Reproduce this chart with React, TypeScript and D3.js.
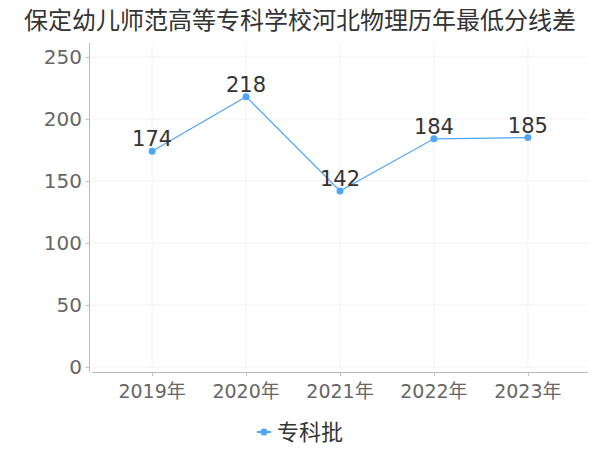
import { useEffect, useRef } from "react"
import * as d3 from "d3"

const title = "保定幼儿师范高等专科学校河北物理历年最低分线差"
const years = ["2019年", "2020年", "2021年", "2022年", "2023年"]
const values = [174, 218, 142, 184, 185]
const yTicks = [0, 50, 100, 150, 200, 250]
const seriesName = "专科批"

const FONT = "'DejaVu Sans', 'Noto Sans CJK SC', sans-serif"
const lineColor = "#4ea6f5"

export default function App() {
  const svgRef = useRef<SVGSVGElement>(null)

  useEffect(() => {
    if (!svgRef.current) return
    const svg = d3.select(svgRef.current)
    svg.selectAll("*").remove()

    const left = 92
    const right = 588
    const top = 57
    const bottom = 367

    const x = d3.scalePoint<string>().domain(years).range([left, right]).padding(0.64)
    const y = d3.scaleLinear().domain([0, 250]).range([bottom, top])

    // title
    svg
      .append("text")
      .attr("x", 300)
      .attr("y", 29)
      .attr("text-anchor", "middle")
      .attr("font-size", 24)
      .attr("fill", "#333")
      .text(title)

    // grid
    svg
      .append("g")
      .selectAll("line")
      .data(yTicks)
      .enter()
      .append("line")
      .attr("x1", left)
      .attr("x2", right)
      .attr("y1", (d) => y(d))
      .attr("y2", (d) => y(d))
      .attr("stroke", "#f2f2f2")

    svg
      .append("g")
      .selectAll("line")
      .data(years)
      .enter()
      .append("line")
      .attr("x1", (d) => x(d) || 0)
      .attr("x2", (d) => x(d) || 0)
      .attr("y1", 44)
      .attr("y2", bottom)
      .attr("stroke", "#f2f2f2")

    // y axis
    svg.append("line").attr("x1", 89.5).attr("x2", 89.5).attr("y1", 43).attr("y2", 372).attr("stroke", "#bbb")
    svg
      .append("g")
      .selectAll("line")
      .data(yTicks)
      .enter()
      .append("line")
      .attr("x1", 86)
      .attr("x2", 89)
      .attr("y1", (d) => y(d) + 0.5)
      .attr("y2", (d) => y(d) + 0.5)
      .attr("stroke", "#bbb")
    svg
      .append("g")
      .selectAll("text")
      .data(yTicks)
      .enter()
      .append("text")
      .attr("x", 82)
      .attr("y", (d) => y(d))
      .attr("dy", "0.36em")
      .attr("text-anchor", "end")
      .attr("font-size", 20)
      .attr("fill", "#666")
      .text((d) => d)

    // x axis
    svg.append("line").attr("x1", left).attr("x2", right).attr("y1", 372.5).attr("y2", 372.5).attr("stroke", "#bbb")
    svg
      .append("g")
      .selectAll("line")
      .data(years)
      .enter()
      .append("line")
      .attr("x1", (d) => (x(d) || 0) + 0.5)
      .attr("x2", (d) => (x(d) || 0) + 0.5)
      .attr("y1", 372)
      .attr("y2", 376)
      .attr("stroke", "#bbb")
    svg
      .append("g")
      .selectAll("text")
      .data(years)
      .enter()
      .append("text")
      .attr("x", (d) => x(d) || 0)
      .attr("y", 398)
      .attr("text-anchor", "middle")
      .attr("font-size", 19)
      .attr("fill", "#666")
      .text((d) => d)

    // line
    const line = d3
      .line<number>()
      .x((_, i) => x(years[i]) || 0)
      .y((d) => y(d))
    svg
      .append("path")
      .datum(values)
      .attr("fill", "none")
      .attr("stroke", lineColor)
      .attr("stroke-width", 1.2)
      .attr("d", line)

    svg
      .append("g")
      .selectAll("circle")
      .data(values)
      .enter()
      .append("circle")
      .attr("cx", (_, i) => x(years[i]) || 0)
      .attr("cy", (d) => y(d))
      .attr("r", 3.5)
      .attr("fill", lineColor)

    svg
      .append("g")
      .selectAll("text")
      .data(values)
      .enter()
      .append("text")
      .attr("x", (_, i) => x(years[i]) || 0)
      .attr("y", (d) => y(d) - 5)
      .attr("text-anchor", "middle")
      .attr("font-size", 21)
      .attr("fill", "#333")
      .text((d) => d)

    // legend
    const lg = svg.append("g").attr("transform", "translate(264,432)")
    lg.append("line").attr("x1", -7).attr("x2", 7).attr("y1", 0).attr("y2", 0).attr("stroke", lineColor).attr("stroke-width", 2)
    lg.append("circle").attr("r", 3.5).attr("fill", lineColor)
    lg.append("text")
      .attr("x", 13)
      .attr("y", 0)
      .attr("dy", "0.36em")
      .attr("font-size", 22)
      .attr("fill", "#333")
      .text(seriesName)
  }, [])

  return (
    <svg
      ref={svgRef}
      width={600}
      height={450}
      style={{ position: "absolute", left: 0, top: 0, fontFamily: FONT, background: "#fff" }}
    />
  )
}
